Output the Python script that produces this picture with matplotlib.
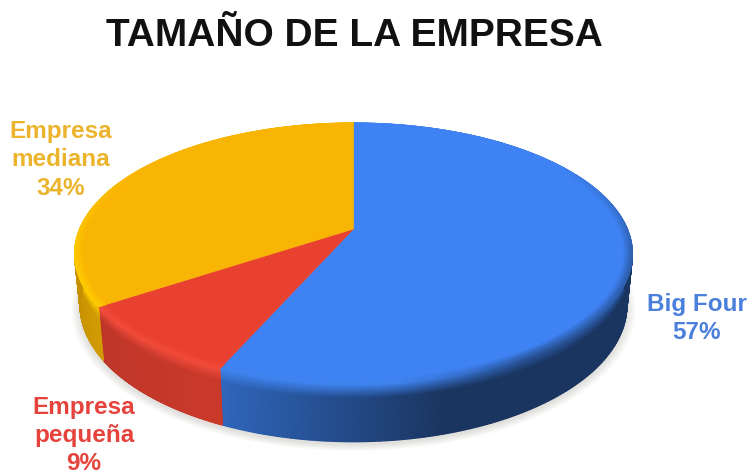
import numpy as np
import matplotlib
matplotlib.use("Agg")
import matplotlib.pyplot as plt
from matplotlib.colors import to_rgb
from matplotlib.patches import Polygon

categories = ["Big Four", "Empresa pequeña", "Empresa mediana"]
shares = [57, 9, 34]
label_lines = ["Big Four\n57%", "Empresa\npequeña\n9%", "Empresa\nmediana\n34%"]

top_colors = ["#3f82f3", "#e8412f", "#f9b504"]
rim_colors = ["#3f83ee", "#f34c3c", "#ffcd00"]
side_near = ["#3068bf", "#c8392a", "#d9a404"]
side_far = ["#1a3560", "#bd3628", "#c59000"]
label_colors = ["#4a7fdc", "#e5433c", "#ecb42c"]
label_pos = [(697, 318.5), (84, 435.5), (61, 160)]

# Perspective disc: apex, focal scales and foreshortening of the pie faces
K = 0.19
VIEW_TWIST = 0.026
TOP = dict(cx=353.5, cy=229.0, a=273.9, b=126.2)
BOTTOM = dict(cx=353.5, cy=279.5, a=268.5, b=131.5)


def project(frac, radius, face):
    """Map a fraction of the turn (clockwise from 12 o'clock) onto a pie face."""
    ang = 2 * np.pi * np.asarray(frac)
    ang = ang - VIEW_TWIST * np.sin(ang / 2) ** 2
    u, v = radius * np.sin(ang), radius * np.cos(ang)
    w = 1 + K * v
    return face["cx"] + face["a"] * u / w, face["cy"] - face["b"] * v / w


def lerp_face(t):
    return {k: TOP[k] + (BOTTOM[k] - TOP[k]) * t for k in TOP}


def blend(c1, c2, t):
    """Blend colours; t may be an array, giving one RGB row per entry."""
    t = np.asarray(t)[..., None]
    return np.array(to_rgb(c1)) * (1 - t) + np.array(to_rgb(c2)) * t


fig = plt.figure(figsize=(7.5, 4.7), dpi=100)
ax = fig.add_axes([0, 0, 1, 1])
ax.axis("off")

# Soft shadow under the pie
full_turn = np.linspace(0, 1, 361)
for grow in np.linspace(1.03, 1.0, 8):
    sx, sy = project(full_turn, grow, BOTTOM)
    ax.add_patch(Polygon(np.c_[sx, sy + 3], closed=True, fc="#8a8578", ec="none",
                         alpha=0.03, zorder=1))

edges = np.cumsum([0] + shares) / sum(shares)


def rim_color_along(i, um):
    """Rim colour along a slice; the far right of the blue slice sinks into shade."""
    dim = 0.5 * np.clip((um - 0.1) / 0.4, 0, 1)
    return blend(rim_colors[i], side_far[i], dim)


# Side wall, shaded along the rim and down from the bevel
bands = np.r_[np.linspace(0, 0.24, 7), 1.0]
for i in range(len(shares)):
    turn = np.linspace(edges[i], edges[i + 1], 240)
    um = np.sin(2 * np.pi * turn)
    if i == 0:
        shade = np.clip((um + 0.45) / 0.7, 0, 1)
    elif i == 1:
        shade = np.clip((-um - 0.5) / 0.4, 0, 1)
    else:
        shade = np.clip((-um - 0.75) / 0.25, 0, 1)
    side = blend(side_near[i], side_far[i], shade)
    rim = rim_color_along(i, um)
    X, Y, C = [], [], []
    for t in bands:
        x, y = project(turn, 1, lerp_face(t))
        X.append(x)
        Y.append(y)
        m = min(t / 0.24, 1)
        C.append(rim * (1 - m) + side * m)
    ax.pcolormesh(np.array(X), np.array(Y), np.array(C), shading="gouraud", zorder=2)

# Top face of each slice
for i in range(len(shares)):
    turn = np.linspace(edges[i], edges[i + 1], 240)
    x, y = project(turn, 1, TOP)
    ax.add_patch(Polygon(np.c_[np.r_[TOP["cx"], x], np.r_[TOP["cy"], y]], closed=True,
                         fc=top_colors[i], ec=top_colors[i], lw=0.4, zorder=3))

# Bevel that blends the top face into the rim
radii = np.linspace(0.968, 1.0, 5)
for i in range(len(shares)):
    turn = np.linspace(edges[i], edges[i + 1], 240)
    um = np.sin(2 * np.pi * turn)
    vm = np.cos(2 * np.pi * turn)
    strength = np.clip((0.55 - vm) / 0.8, 0, 1)
    rim = rim_color_along(i, um)
    base = np.array(to_rgb(top_colors[i]))
    X, Y, C = [], [], []
    for r in radii:
        x, y = project(turn, r, TOP)
        X.append(x)
        Y.append(y)
        m = ((r - radii[0]) / (radii[-1] - radii[0]) * strength)[..., None]
        C.append(base * (1 - m) + rim * m)
    ax.pcolormesh(np.array(X), np.array(Y), np.array(C), shading="gouraud", zorder=4)

ax.set_xlim(0, 750)
ax.set_ylim(470, 0)

ax.text(354.5, 36, "TAMAÑO DE LA EMPRESA", ha="center", va="center",
        family="Liberation Sans", weight="bold", fontsize=28, color="#111111")

for text, (lx, ly), color in zip(label_lines, label_pos, label_colors):
    ax.text(lx, ly, text, ha="center", va="center", multialignment="center",
            family="Liberation Sans", weight="bold", fontsize=17.5, color=color,
            linespacing=1.3)

fig.savefig("out.png", dpi=100, facecolor="white")
